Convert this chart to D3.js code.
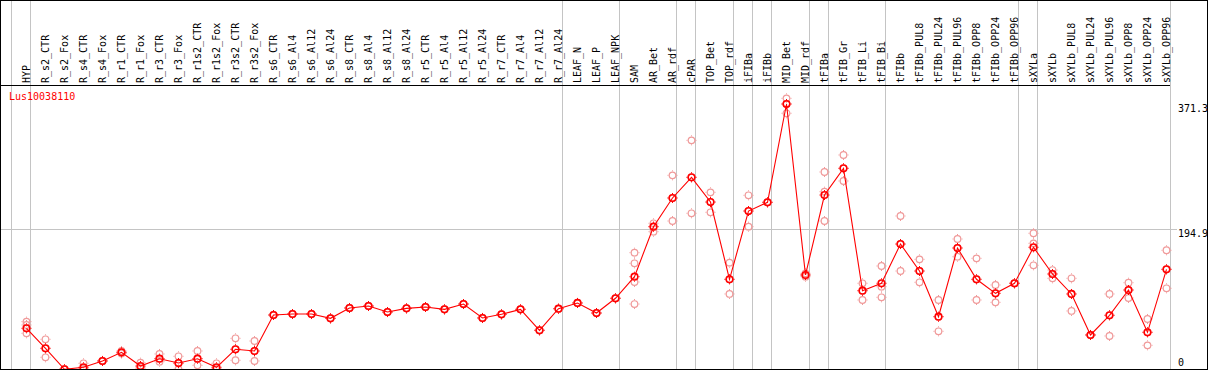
<!DOCTYPE html>
<html>
<head>
<meta charset="utf-8">
<script src="https://cdn.jsdelivr.net/npm/d3@7"></script>
<style>
  html, body { margin: 0; padding: 0; background: #fff; }
  svg { display: block; }
  text { font-family: "DejaVu Sans Mono", monospace; font-size: 10px; }
</style>
</head>
<body>
<svg id="chart" width="1209" height="370"></svg>
<script>
const geneName = 'Lus10038110';

const categories = [
  'HYP', 'R_s2_CTR', 'R_s2_Fox', 'R_s4_CTR', 'R_s4_Fox', 'R_r1_CTR', 'R_r1_Fox',
  'R_r3_CTR', 'R_r3_Fox', 'R_r1s2_CTR', 'R_r1s2_Fox', 'R_r3s2_CTR', 'R_r3s2_Fox',
  'R_s6_CTR', 'R_s6_Al4', 'R_s6_Al12', 'R_s6_Al24', 'R_s8_CTR', 'R_s8_Al4',
  'R_s8_Al12', 'R_s8_Al24', 'R_r5_CTR', 'R_r5_Al4', 'R_r5_Al12', 'R_r5_Al24',
  'R_r7_CTR', 'R_r7_Al4', 'R_r7_Al12', 'R_r7_Al24', 'LEAF_N', 'LEAF_P', 'LEAF_NPK',
  'SAM', 'AR_Bet', 'AR_rdf', 'cPAR', 'TOP_Bet', 'TOP_rdf', 'iFIBa', 'iFIBb',
  'MID_Bet', 'MID_rdf', 'tFIBa', 'tFIB_Gr', 'tFIB_Li', 'tFIB_Bi', 'tFIBb',
  'tFIBb_PUL8', 'tFIBb_PUL24', 'tFIBb_PUL96', 'tFIBb_OPP8', 'tFIBb_OPP24',
  'tFIBb_OPP96', 'sXYLa', 'sXYLb', 'sXYLb_PUL8', 'sXYLb_PUL24', 'sXYLb_PUL96',
  'sXYLb_OPP8', 'sXYLb_OPP24', 'sXYLb_OPP96'
];

const means = [
  54.6, 26.4, -3.2, -0.4, 8.5, 20.7, 1.4, 11.7, 5.6, 11.7, -0.4, 25, 22.6,
  73.4, 74.8, 74.8, 68.7, 83.3, 86.1, 77.6, 82.8, 84.7, 81.4, 88.9, 69.2,
  74.4, 81.4, 51.8, 82.3, 90.4, 76.2, 97.0,
  127.5, 198.1, 238.6, 267.8, 232.9, 123.8, 220.2, 232.5,
  371.3, 129.9, 242.8, 280.5, 107.7, 118.2, 173.6,
  135.5, 71, 168, 123.8, 104, 118.2,
  169, 131.3, 103.1, 45.2, 73, 108.7, 49, 137.9
];

const replicates = [
  [64.0, 59.3, 47.6], [39.1, 26.4, 13.7], [-3, -3, -3], [5.2, -3, -3],
  [8.5, 8.5, 8.5], [22.6, 20.7, 19], [6.1, 0, -2], [18.4, 11.7, 7.5],
  [15.1, 5, -3.2], [22.6, 11.7, 2.4], [5.2, -3, -3], [40.5, 25, 9.5],
  [36.7, 22.6, 8.5],
  [73.4, 73.4, 73.4], [74.8, 74.8, 74.8], [74.8, 74.8, 74.8], [68.7, 68.7, 68.7],
  [83.3, 83.3, 83.3], [86.1, 86.1, 86.1], [77.6, 77.6, 77.6], [82.8, 82.8, 82.8],
  [84.7, 84.7, 84.7], [81.4, 81.4, 81.4], [88.9, 88.9, 88.9], [69.2, 69.2, 69.2],
  [74.4, 74.4, 74.4], [81.4, 81.4, 81.4], [51.8, 51.8, 51.8], [82.3, 82.3, 82.3],
  [90.4, 90.4, 90.4], [76.2, 76.2, 76.2], [97.0, 97.0, 97.0],
  [161.4, 146.4, 120, 88.9], [202.9, 198.1, 191], [270.6, 238.6, 206.1],
  [320, 267.8, 217], [246.6, 232.9, 218.4], [147.3, 123.8, 103.1],
  [242.4, 220.2, 198.1], [232.5, 232.5, 232.5], [379.3, 371.3, 358.2],
  [132.3, 129.9, 127.5], [275.3, 247.5, 206.1], [299.3, 280.5, 262.6],
  [118.2, 107.7, 94.6], [142.6, 113.4, 98.4], [213.2, 173.6, 135.5],
  [152, 135.5, 119.6], [94.6, 71, 50.4], [180.7, 168, 155.7],
  [153.4, 123.8, 94.6], [115.8, 104, 91.3], [118.2, 118.2, 118.2],
  [188.8, 174.6, 143.6], [136.9, 131.3, 125.2], [125.2, 103.1, 79.1],
  [45.2, 45.2, 45.2], [103.1, 73, 43.8], [119, 108.7, 97.4],
  [67.8, 49, 30.6], [164.8, 137.9, 111.1]
];

// last category of each tissue group, a grey separator follows it
const groupEnds = [
  'HYP', 'R_r7_Al24', 'LEAF_NPK', 'AR_rdf', 'cPAR', 'TOP_rdf', 'iFIBa', 'iFIBb',
  'MID_rdf', 'tFIBa', 'tFIB_Bi', 'tFIBb_OPP96', 'sXYLa', 'sXYLb_OPP96'
];

const tickValues = [0, 194.9, 371.3];
const gridValues = [194.9];

const W = 1209, H = 370;
const STEP = 19;
const HEADER = 85;
const COLORS = { mean: '#ff0000', rep: '#f09a9a', grid: '#c4c4c4' };

let svg = d3.select('#chart');

let x = d3.scalePoint()
  .domain(categories)
  .range([26.5, 26.5 + STEP * (categories.length - 1)]);

let y = d3.scaleLinear()
  .domain([0, 371.3])
  .range([367, 104]);

let plotRight = x(categories[categories.length - 1]) + 3.5;

// separators (first one sits before HYP)
let sepX = [x(categories[0]) - STEP + 3.5, ...groupEnds.map((c) => x(c) + 3.5)];
svg.append('g')
  .selectAll('line')
  .data(sepX)
  .join('line')
  .attr('x1', (d) => Math.round(d) + 0.5)
  .attr('x2', (d) => Math.round(d) + 0.5)
  .attr('y1', 0)
  .attr('y2', H)
  .attr('stroke', COLORS.grid)
  .attr('stroke-width', 1);

// horizontal grid
svg.append('g')
  .selectAll('line')
  .data(gridValues)
  .join('line')
  .attr('x1', 1)
  .attr('x2', plotRight + 7)
  .attr('y1', (d) => Math.round(y(d)) + 0.5)
  .attr('y2', (d) => Math.round(y(d)) + 0.5)
  .attr('stroke', COLORS.grid);

// header separator
svg.append('line')
  .attr('x1', 0).attr('x2', plotRight)
  .attr('y1', HEADER + 0.5).attr('y2', HEADER + 0.5)
  .attr('stroke', '#000');

// rotated category labels
svg.append('g')
  .selectAll('text')
  .data(categories)
  .join('text')
  .attr('transform', (d) => `translate(${x(d) + 3.5},${HEADER - 2}) rotate(-90)`)
  .attr('fill', '#000')
  .text((d) => d);

// gene label
svg.append('text')
  .attr('x', 9)
  .attr('y', 100)
  .attr('fill', COLORS.mean)
  .text(geneName);

// value labels on the right
svg.append('g')
  .selectAll('text')
  .data(tickValues)
  .join('text')
  .attr('x', plotRight + 8)
  .attr('y', (d) => Math.min(y(d) + 8, 366))
  .attr('fill', '#000')
  .text((d) => d);

svg.append('clipPath')
  .attr('id', 'plotClip')
  .append('rect')
  .attr('x', 1).attr('y', HEADER + 1)
  .attr('width', W - 2).attr('height', H - HEADER - 2);

let plot = svg.append('g').attr('clip-path', 'url(#plotClip)');

let drawMarker = (g, cx, cy, color, width) => {
  g.append('circle')
    .attr('cx', cx).attr('cy', cy).attr('r', 3.3)
    .attr('fill', 'none')
    .attr('stroke', color)
    .attr('stroke-width', width);
  // small notches round the ring
  for (let a = 0; a < 4; ++a) {
    let dx = Math.cos(a * Math.PI / 2), dy = Math.sin(a * Math.PI / 2);
    g.append('line')
      .attr('x1', cx + dx * 4).attr('y1', cy + dy * 4)
      .attr('x2', cx + dx * 5).attr('y2', cy + dy * 5)
      .attr('stroke', color)
      .attr('stroke-width', 1);
  }
};

let repLayer = plot.append('g');
categories.forEach((c, i) => {
  replicates[i].forEach((v) => drawMarker(repLayer, x(c), y(v), COLORS.rep, 1.2));
});

let line = d3.line()
  .x((d, i) => x(categories[i]))
  .y((d) => y(d));

plot.append('path')
  .datum(means)
  .attr('d', line)
  .attr('fill', 'none')
  .attr('stroke', COLORS.mean)
  .attr('stroke-width', 1.1);

let meanLayer = plot.append('g');
categories.forEach((c, i) => {
  drawMarker(meanLayer, x(c), y(means[i]), COLORS.mean, 1.6);
});

// outer frame
svg.append('rect')
  .attr('x', 0.5).attr('y', 0.5)
  .attr('width', 1207).attr('height', 369)
  .attr('fill', 'none')
  .attr('stroke', '#000');
</script>
</body>
</html>
